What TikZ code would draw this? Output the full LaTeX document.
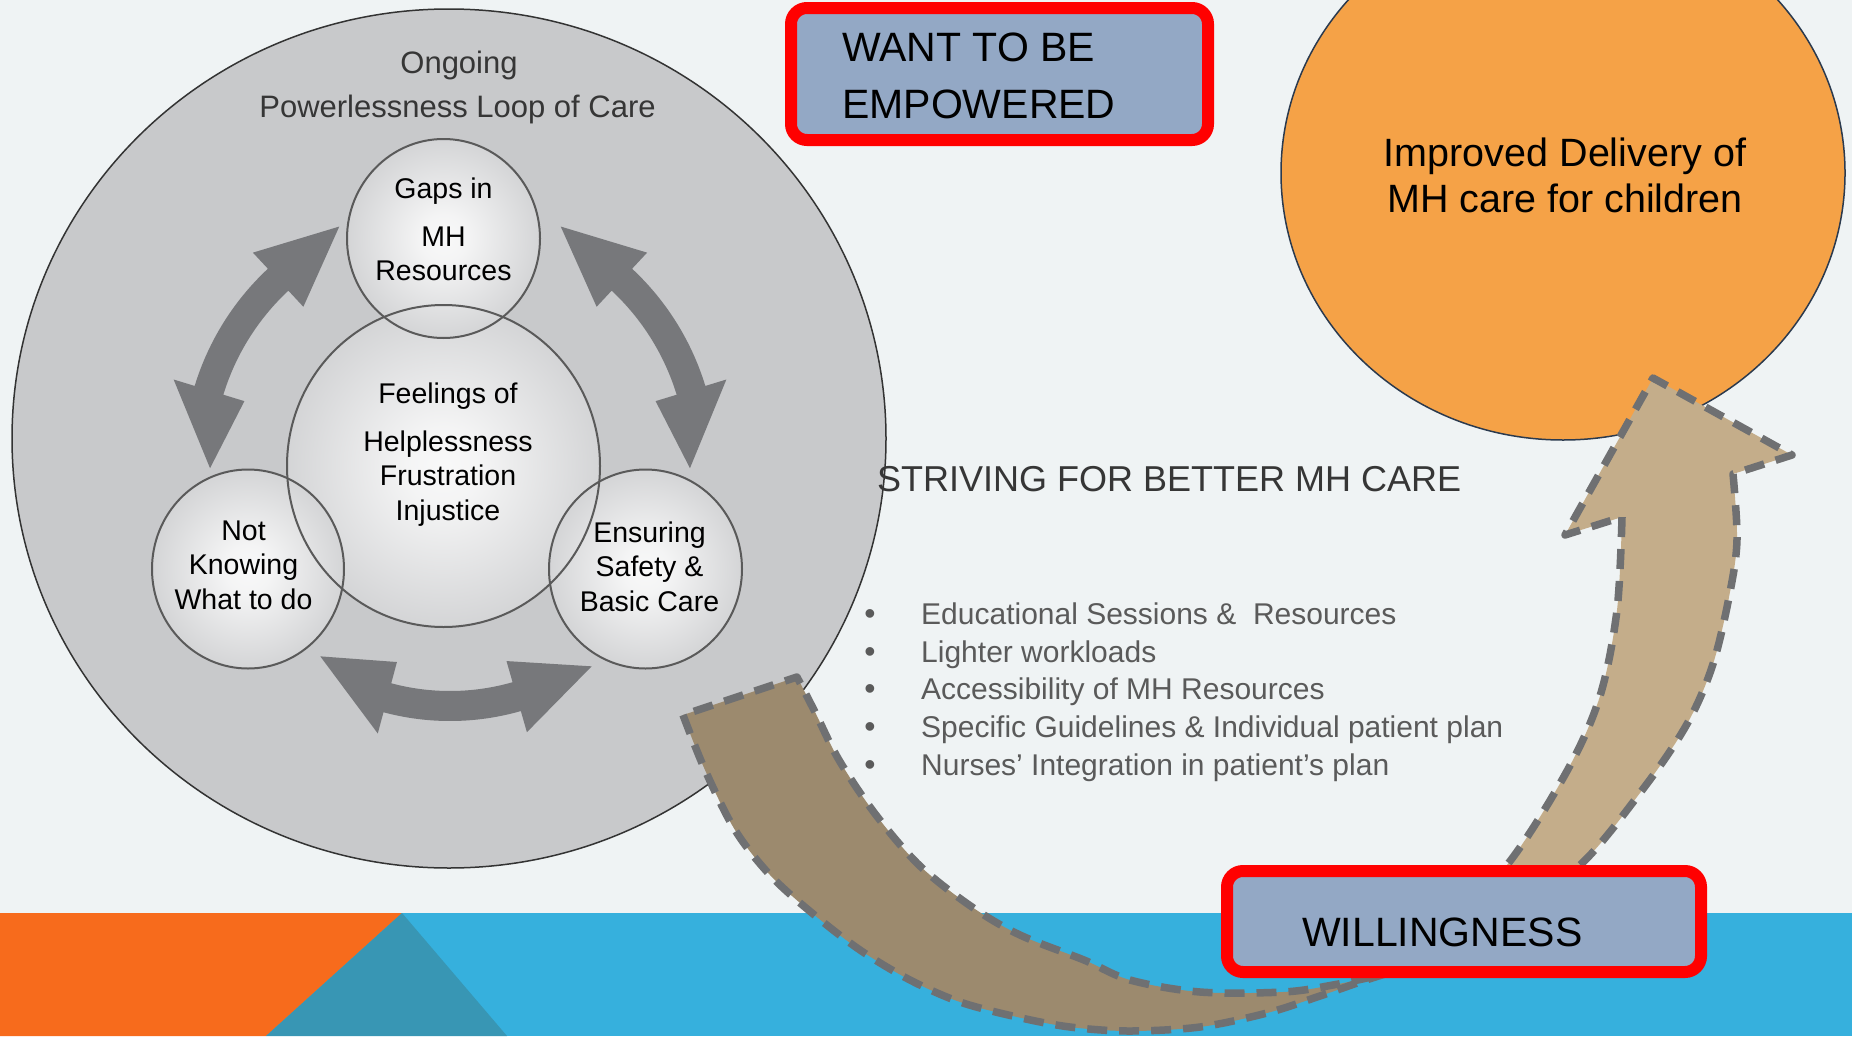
\documentclass[tikz,border=0pt]{standalone}
\usepackage{fontspec}
\setmainfont{Liberation Sans}
\usetikzlibrary{shapes.geometric,shadows}

\definecolor{bgpaper}{HTML}{EFF3F4}
\definecolor{bandblue}{HTML}{36B0DD}
\definecolor{bandorange}{HTML}{F76B1C}
\definecolor{bandteal}{HTML}{3896B4}
\definecolor{loopgray}{HTML}{C8C9CB}
\definecolor{ringline}{HTML}{5A5A5A}
\definecolor{cyclegray}{HTML}{77787B}
\definecolor{goalorange}{HTML}{F5A247}
\definecolor{goalline}{HTML}{2B3A4E}
\definecolor{boxfill}{HTML}{93A8C5}
\definecolor{boxred}{HTML}{FF0000}
\definecolor{backtan}{HTML}{9C8A6E}
\definecolor{fronttan}{HTML}{C4AD8A}
\definecolor{dashgray}{HTML}{6F7072}
\definecolor{headtext}{HTML}{363636}
\definecolor{listtext}{HTML}{5A5A5A}

\pgfdeclareradialshading{ringglow}{\pgfpoint{0bp}{0bp}}{%
  color(0bp)=(white!88!loopgray); color(6bp)=(white!80!loopgray);
  color(32bp)=(loopgray); color(50bp)=(loopgray)}

% curved double-headed arrow on a circle around #1:
% #2 radius, #3/#4 first tip angle/radius, #5/#6 head bases, #7/#8 second tip angle/radius
\newcommand\cyclearrow[8]{%
  \fill[cyclegray, shift={#1}]
    (#3:#4) -- (#5:#2+37) -- (#5:#2+15)
    arc[start angle=#5, end angle=#6, radius=#2+15]
    -- (#6:#2+37) -- (#7:#8) -- (#6:#2-37) -- (#6:#2-15)
    arc[start angle=#6, end angle=#5, radius=#2-15]
    -- (#5:#2-37) -- cycle;}

\tikzset{
  ring/.style={ellipse, inner sep=0pt, shading=ringglow},
  ringedge/.style={ellipse, inner sep=0pt, draw=ringline, line width=2pt},
  ringtext/.style={anchor=base, text=black, inner sep=0pt,
    font=\fontsize{28.5}{34}\selectfont},
  looptitle/.style={anchor=base, text=headtext, inner sep=0pt,
    font=\fontsize{31}{37}\selectfont},
  redbox/.style={rectangle, rounded corners=16pt, fill=boxfill, draw=boxred,
    line width=12pt, inner sep=0pt,
    drop shadow={shadow xshift=3pt, shadow yshift=-5pt, opacity=0.25}},
  boxtext/.style={anchor=base west, text=black, inner sep=0pt,
    font=\fontsize{41}{48}\selectfont},
  goaltext/.style={anchor=base, text=black, inner sep=0pt,
    font=\fontsize{39.5}{46}\selectfont},
  listitem/.style={anchor=base west, text=listtext, inner sep=0pt,
    font=\fontsize{30}{36}\selectfont},
  listdot/.style={anchor=base, text=listtext, inner sep=0pt,
    font=\fontsize{32}{36}\selectfont},
  swoosh/.style={draw=dashgray, line width=7.5pt, dash pattern=on 20pt off 12pt,
    line join=round},
}

\begin{document}
\begin{tikzpicture}[x=1pt, y=-1pt]
  \useasboundingbox (0,0) rectangle (1852,1036);
  \fill[bgpaper] (0,0) rectangle (1852,1036);

  % coloured strip along the bottom edge
  \fill[bandblue] (0,913) rectangle (1852,1036);
  \fill[bandorange] (0,913) -- (402,913) -- (266,1036) -- (0,1036) -- cycle;
  \fill[bandteal] (402,913) -- (507,1036) -- (266,1036) -- cycle;

  % goal ellipse, top right
  \node[ellipse, inner sep=0pt, fill=goalorange, draw=goalline, line width=1.5pt,
        minimum width=564, minimum height=534] (goal) at (1563,173) {};
  \node[goaltext] (goal1) at (1565,166) {Improved Delivery of};
  \node[goaltext] (goal2) at (1565,212) {MH care for children};

  % the powerlessness loop
  \node[ellipse, inner sep=0pt, fill=loopgray, draw=black!80, line width=1.5pt,
        minimum width=874, minimum height=859] (loop) at (449,438.5) {};

  \node[ring, minimum width=313, minimum height=322] (feel) at (443.5,466) {};
  \node[ring, minimum width=193, minimum height=199] (gaps) at (443.5,238.5) {};
  \node[ring, minimum width=192, minimum height=199] (know) at (248,569) {};
  \node[ring, minimum width=193, minimum height=199] (safe) at (645.5,569) {};
  \node[ringedge, minimum width=313, minimum height=322] at (feel.center) {};
  \node[ringedge, minimum width=193, minimum height=199] at (gaps.center) {};
  \node[ringedge, minimum width=192, minimum height=199] at (know.center) {};
  \node[ringedge, minimum width=193, minimum height=199] at (safe.center) {};

  \cyclearrow{(450,464)}{252}{245}{262}{227}{197}{179}{240}
  \cyclearrow{(450,464)}{252}{295}{262}{313}{343}{361}{240}
  \cyclearrow{(450,464)}{242}{124}{232}{105}{74}{55}{247}

  \node[looptitle] (title1) at (459,73) {Ongoing};
  \node[looptitle] (title2) at (457.5,117) {Powerlessness Loop of Care};

  \node[ringtext] (gaps1) at (443.5,198) {Gaps in};
  \node[ringtext] (gaps2) at (443.5,246) {MH};
  \node[ringtext] (gaps3) at (443.5,280) {Resources};

  \node[ringtext] (feel1) at (448,403) {Feelings of};
  \node[ringtext] (feel2) at (448,451) {Helplessness};
  \node[ringtext] (feel3) at (448,485) {Frustration};
  \node[ringtext] (feel4) at (448,520) {Injustice};

  \node[ringtext] (know1) at (243.5,540) {Not};
  \node[ringtext] (know2) at (243.5,574) {Knowing};
  \node[ringtext] (know3) at (243.5,609) {What to do};

  \node[ringtext] (safe1) at (649.5,542) {Ensuring};
  \node[ringtext] (safe2) at (649.5,576) {Safety \&};
  \node[ringtext] (safe3) at (649.5,611) {Basic Care};

  % empowerment box
  \node[redbox, minimum width=417, minimum height=132] (want) at (999.5,74) {};
  \node[boxtext] (want1) at (842,61) {WANT TO BE};
  \node[boxtext] (want2) at (842,118) {EMPOWERED};

  % heading and list
  \node[anchor=base west, text=headtext, inner sep=0pt,
        font=\fontsize{36}{42}\selectfont] (strive) at (877,491)
        {STRIVING FOR BETTER MH CARE};

  \node[listdot] (dot1) at (870,624) {•};
  \node[listdot] (dot2) at (870,662) {•};
  \node[listdot] (dot3) at (870,699) {•};
  \node[listdot] (dot4) at (870,737) {•};
  \node[listdot] (dot5) at (870,775) {•};
  \node[listitem] (item1) at (921,624) {Educational Sessions \&\ \ Resources};
  \node[listitem] (item2) at (921,662) {Lighter workloads};
  \node[listitem] (item3) at (921,699) {Accessibility of MH Resources};
  \node[listitem] (item4) at (921,737) {Specific Guidelines \& Individual patient plan};
  \node[listitem] (item5) at (921,775) {Nurses’ Integration in patient’s plan};

  % curved arrow: back part from the loop down to the bottom
  \coordinate (tailA) at (683,715);
  \coordinate (tailB) at (797,677);
  \coordinate (twist) at (1385,974);
  \path[fill=backtan, swoosh] (tailA)
    -- plot[smooth, tension=0.55] coordinates {(683,715) (705,770) (735,830)
       (770,875) (812,913) (860,950) (910,980) (960,1002) (1017,1017)
       (1070,1027) (1129,1031) (1200,1027) (1267,1013) (1317,997)
       (1360,982) (1385,974)}
    -- plot[smooth, tension=0.55] coordinates {(1385,974) (1333,985)
       (1283,992) (1200,992) (1130,980) (1084,960) (1020,935) (972,907)
       (920,866) (876,815) (839,760) (815,712) (797,677)}
    -- (tailB) -- cycle;

  % front part rising to the head at the goal
  \path[fill=fronttan, swoosh] (twist)
    -- plot[smooth, tension=0.55] coordinates {(1385,974) (1450,935)
       (1520,898) (1580,865) (1643,789) (1687,724) (1713,664) (1730,592)
       (1737,539) (1733,474)}
    -- (1792,455) -- (1653,378) -- (1565,535) -- (1622,517)
    -- plot[smooth, tension=0.55] coordinates {(1622,517) (1617,610)
       (1600,696) (1567,771) (1507,865) (1440,930) (1385,974)}
    -- cycle;

  % willingness box
  \node[redbox, minimum width=474, minimum height=101] (will) at (1464,921.5) {};
  \node[boxtext] (will1) at (1302,946) {WILLINGNESS};
\end{tikzpicture}
\end{document}
